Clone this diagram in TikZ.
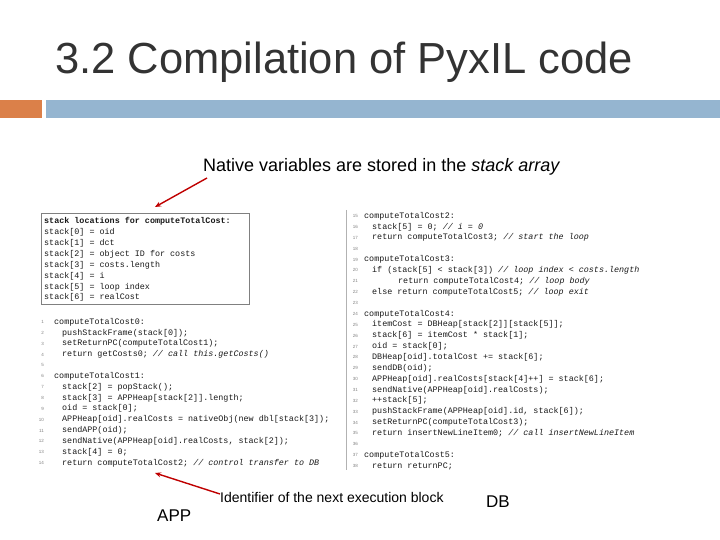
\documentclass[tikz,border=0pt]{standalone}
\usepackage{fontspec}
\setmainfont{Liberation Sans}
\setmonofont{Liberation Mono}
\usetikzlibrary{arrows.meta}
\definecolor{barorange}{HTML}{DB8049}
\definecolor{barblue}{HTML}{95B5D0}
\begin{document}
\begin{tikzpicture}[x=1pt,y=-1pt,
  code/.style={anchor=west,inner sep=0pt,font=\fontsize{8.4}{9}\ttfamily,text=black!90},
  lnum/.style={anchor=east,inner sep=0pt,font=\fontsize{4.5}{5}\selectfont,text=gray},
  redarrow/.style={draw=red!75!black,line width=1.4pt,-{Stealth[length=6pt,width=5pt]}}]
\useasboundingbox (0,0) rectangle (720,540);
\node[anchor=base west,inner sep=0pt,font=\fontsize{43.5}{46}\selectfont,text=black!80] (title) at (55,74) {3.2 Compilation of PyxIL code};
\fill[barorange] (0,100) rectangle (42,118);
\fill[barblue] (46,100) rectangle (720,118);
\node[anchor=base west,inner sep=0pt,font=\fontsize{18}{20}\selectfont] (cap) at (203,172) {Native variables are stored in the \textit{stack array}};
\draw[gray,line width=0.8pt] (41,213) rectangle (249,304);
\newcommand\cl[4]{\node[code] (c#1) at (#2,#3) {#4};}
\cl{h}{44}{221}{\textbf{stack locations for computeTotalCost:}}
\cl{s0}{44}{232}{stack[0] = oid}
\cl{s1}{44}{243}{stack[1] = dct}
\cl{s2}{44}{254}{stack[2] = object ID for costs}
\cl{s3}{44}{265}{stack[3] = costs.length}
\cl{s4}{44}{276}{stack[4] = i}
\cl{s5}{44}{287}{stack[5] = loop index}
\cl{s6}{44}{297}{stack[6] = realCost}
\foreach \i in {1,...,14}{\node[lnum] (n\i) at (44,{322+(\i-1)*10.85}) {\i};}
\cl{1}{54}{322}{computeTotalCost0:}
\cl{2}{62}{332.85}{pushStackFrame(stack[0]);}
\cl{3}{62}{343.7}{setReturnPC(computeTotalCost1);}
\cl{4}{62}{354.55}{return getCosts0; \textit{// call this.getCosts()}}
\cl{6}{54}{376.25}{computeTotalCost1:}
\cl{7}{62}{387.1}{stack[2] = popStack();}
\cl{8}{62}{397.95}{stack[3] = APPHeap[stack[2]].length;}
\cl{9}{62}{408.8}{oid = stack[0];}
\cl{10}{62}{419.65}{APPHeap[oid].realCosts = nativeObj(new dbl[stack[3]);}
\cl{11}{62}{430.5}{sendAPP(oid);}
\cl{12}{62}{441.35}{sendNative(APPHeap[oid].realCosts, stack[2]);}
\cl{13}{62}{452.2}{stack[4] = 0;}
\cl{14}{62}{463}{return computeTotalCost2; \textit{// control transfer to DB}}
\draw[gray!60,line width=1pt] (346,210) -- (346,470);
\foreach \i in {15,...,38}{\node[lnum] (n\i) at (358,{216+(\i-15)*10.87}) {\i};}
\cl{15}{364}{216}{computeTotalCost2:}
\cl{16}{372}{226.87}{stack[5] = 0; \textit{// i = 0}}
\cl{17}{372}{237.74}{return computeTotalCost3; \textit{// start the loop}}
\cl{19}{364}{259.48}{computeTotalCost3:}
\cl{20}{372}{270.35}{if (stack[5] < stack[3]) \textit{// loop index < costs.length}}
\cl{21}{398}{281.22}{return computeTotalCost4; \textit{// loop body}}
\cl{22}{372}{292.09}{else return computeTotalCost5; \textit{// loop exit}}
\cl{24}{364}{313.83}{computeTotalCost4:}
\cl{25}{372}{324.7}{itemCost = DBHeap[stack[2]][stack[5]];}
\cl{26}{372}{335.57}{stack[6] = itemCost * stack[1];}
\cl{27}{372}{346.44}{oid = stack[0];}
\cl{28}{372}{357.31}{DBHeap[oid].totalCost += stack[6];}
\cl{29}{372}{368.18}{sendDB(oid);}
\cl{30}{372}{379.05}{APPHeap[oid].realCosts[stack[4]++] = stack[6];}
\cl{31}{372}{389.92}{sendNative(APPHeap[oid].realCosts);}
\cl{32}{372}{400.79}{++stack[5];}
\cl{33}{372}{411.66}{pushStackFrame(APPHeap[oid].id, stack[6]);}
\cl{34}{372}{422.53}{setReturnPC(computeTotalCost3);}
\cl{35}{372}{433.4}{return insertNewLineItem0; \textit{// call insertNewLineItem}}
\cl{37}{364}{455.14}{computeTotalCost5:}
\cl{38}{372}{466}{return returnPC;}
\node[anchor=base west,inner sep=0pt,font=\fontsize{14}{16}\selectfont] (ident) at (220,502) {Identifier of the next execution block};
\node[anchor=base west,inner sep=0pt,font=\fontsize{17}{19}\selectfont] (app) at (157,521) {APP};
\node[anchor=base west,inner sep=0pt,font=\fontsize{17}{19}\selectfont] (db) at (486,507) {DB};
\coordinate (a1) at (155,207);
\coordinate (a2) at (155,473);
\draw[redarrow] (207,178) -- (a1);
\draw[redarrow] (ident.west) ++(0,-3) -- (a2);
\end{tikzpicture}
\end{document}
